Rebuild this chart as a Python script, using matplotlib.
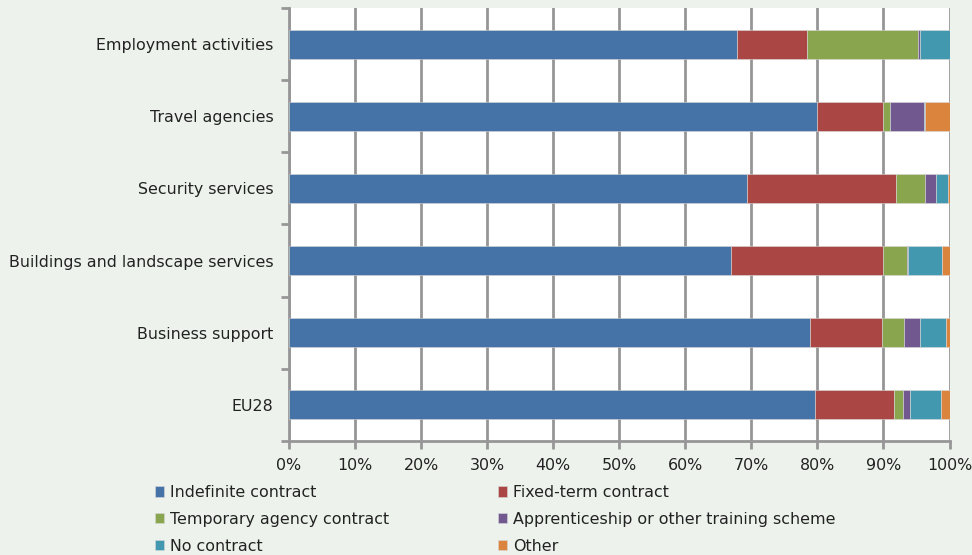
import numpy as np
import matplotlib.pyplot as plt
from matplotlib.ticker import FixedLocator, PercentFormatter

# Contract types by sector (shares of employees, %)
sectors = ['Employment activities', 'Travel agencies', 'Security services',
           'Buildings and landscape services', 'Business support', 'EU28']
series_names = ['Indefinite contract', 'Fixed-term contract',
                'Temporary agency contract', 'Apprenticeship or other training scheme',
                'No contract', 'Other']
indefinite = [67.8, 80.0, 69.4, 66.9, 78.9, 79.7]
fixed_term = [10.6, 9.9, 22.5, 23.1, 10.8, 11.9]
temp_agency = [16.8, 1.1, 4.4, 3.5, 3.4, 1.4]
apprentice = [0.4, 5.1, 1.7, 0.2, 2.4, 1.0]
no_contract = [4.4, 0.2, 1.7, 5.2, 3.9, 4.7]
other = [0.0, 3.7, 0.3, 1.1, 0.6, 1.3]

colors = ['#4572A7', '#AA4643', '#89A54E', '#71588F', '#4198AF', '#DB843D']
bg = '#EDF3EC'
grid_col = '#969696'
txt = '#222222'
fs = 11.4

plt.rcParams['font.family'] = ['DejaVu Sans']

fig = plt.figure(figsize=(9.72, 5.55), dpi=100, facecolor=bg)
ax = fig.add_axes([0.2973, 0.2054, 0.6796, 0.7802])
ax.set_facecolor('white')

y = np.arange(len(sectors))
left = np.zeros(len(sectors))
for name, vals, c in zip(series_names,
                         [indefinite, fixed_term, temp_agency, apprentice, no_contract, other],
                         colors):
    vals = np.array(vals)
    ax.barh(y, vals, left=left, height=0.4, color=c, label=name,
            edgecolor='#d8d8d8', linewidth=0.4, zorder=3)
    left += vals

ax.set_xlim(0, 100)
ax.set_ylim(len(sectors) - 0.5, -0.5)
ax.set_xticks(np.arange(0, 101, 10))
ax.xaxis.set_major_formatter(PercentFormatter(decimals=0))
ax.set_yticks(y)
ax.set_yticklabels(sectors)
ax.yaxis.set_minor_locator(FixedLocator(np.arange(-0.5, len(sectors), 1)))

ax.grid(axis='x', color=grid_col, linewidth=2, zorder=1)
for s in ['top', 'right']:
    ax.spines[s].set_visible(False)
for s in ['left', 'bottom']:
    ax.spines[s].set_color(grid_col)
    ax.spines[s].set_linewidth(2)

ax.tick_params(axis='y', which='major', length=0, pad=11, labelsize=fs, labelcolor=txt)
ax.tick_params(axis='y', which='minor', length=6, width=2, color=grid_col)
ax.tick_params(axis='x', which='major', length=6, width=2, color=grid_col,
               pad=6, labelsize=fs, labelcolor=txt)

# legend filled row by row
handles, labels = ax.get_legend_handles_labels()
order = [0, 2, 4, 1, 3, 5]
fig.legend([handles[i] for i in order], [labels[i] for i in order],
           loc='upper left', bbox_to_anchor=(0.159, 0.126), ncol=2, frameon=False,
           fontsize=fs, handlelength=0.6, handleheight=0.6, handletextpad=0.35,
           columnspacing=6.9, labelspacing=0.74, borderaxespad=0, borderpad=0,
           labelcolor=txt)

fig.savefig('out.png', dpi=100, facecolor=bg)
